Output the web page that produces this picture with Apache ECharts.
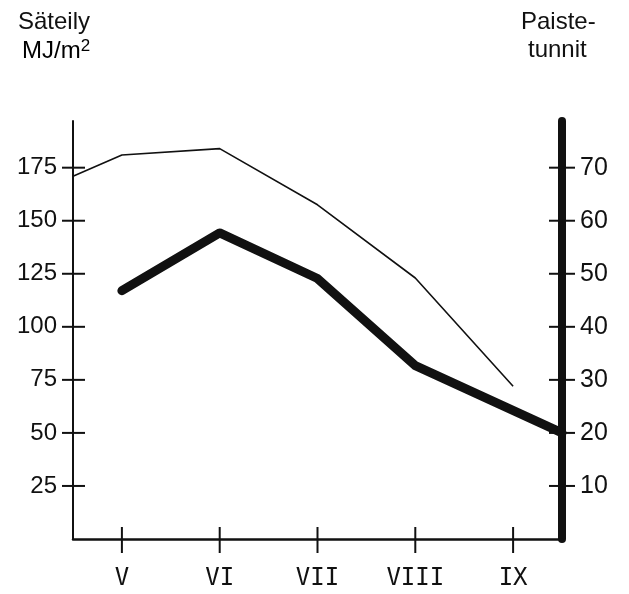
<!DOCTYPE html>
<html>
<head>
<meta charset="utf-8">
<script src="https://cdn.jsdelivr.net/npm/echarts@6/dist/echarts.min.js"></script>
<style>
  html, body { margin: 0; padding: 0; background: #fff; }
  #chart { width: 629px; height: 594px; }
</style>
</head>
<body>
<div id="chart"></div>
<script>
// kuukaudet ja arvot luettu kuvasta
var months = ['V', 'VI', 'VII', 'VIII', 'IX'];
var monthPos = [1, 2, 3, 4, 5];
var leftTicks = [25, 50, 75, 100, 125, 150, 175];
var rightTicks = [10, 20, 30, 40, 50, 60, 70];

// säteily MJ/m2 (ohut viiva, vasen akseli)
var radX = [0.5, 1, 2, 3, 4, 5];
var radY = [171, 181, 184, 157.5, 123, 72];

// paistetunnit (paksu viiva, oikea akseli)
var sunX = [1, 2, 3, 4, 5.5];
var sunY = [46.8, 57.7, 49.1, 32.7, 20];

function pairs(xs, ys) {
    var out = [];
    for (var i = 0; i < xs.length; i++) {
        out.push([xs[i], ys[i]]);
    }
    return out;
}

var ink = '#111';
var font = 'Liberation Sans';
var xMin = 0.5, xMax = 5.5;

// akselin yli menevät väkäset (custom series, koska tick ei mene akselin molemmin puolin)
function crossTicks(yIndex, vertical, before, after) {
    return {
        type: 'custom',
        xAxisIndex: 0,
        yAxisIndex: yIndex,
        clip: false,
        silent: true,
        renderItem: function (params, api) {
            var p = api.coord([api.value(0), api.value(1)]);
            var shape = vertical
                ? {x1: p[0], y1: p[1] - before, x2: p[0], y2: p[1] + after}
                : {x1: p[0] - before, y1: p[1], x2: p[0] + after, y2: p[1]};
            return {type: 'line', shape: shape, style: {stroke: ink, lineWidth: 2}};
        }
    };
}

var myChart = echarts.init(document.getElementById('chart'));

var leftTickSeries = crossTicks(0, false, 11, 12);
leftTickSeries.data = leftTicks.map(function (v) { return [xMin, v]; });
var rightTickSeries = crossTicks(1, false, 13, 13);
rightTickSeries.data = rightTicks.map(function (v) { return [xMax, v]; });
var bottomTickSeries = crossTicks(0, true, 12, 14);
bottomTickSeries.data = monthPos.map(function (m) { return [m, 0]; });

var option = {
    backgroundColor: '#fff',
    animation: false,
    grid: {
        left: 73,
        right: 67,
        top: 121,
        bottom: 55,
        containLabel: false
    },
    graphic: [
        {type: 'text', left: 18, top: 10, style: {text: 'Säteily', font: '24px ' + font, fill: ink}},
        {type: 'text', left: 22, top: 38, style: {
            text: '{a|MJ/m}{b|2}',
            rich: {
                a: {fontSize: 24, fontFamily: font, color: ink},
                b: {fontSize: 17, fontFamily: font, color: ink, verticalAlign: 'top', padding: [0, 0, 10, 0]}
            }
        }},
        {type: 'text', left: 521, top: 10, style: {text: 'Paiste-', font: '24px ' + font, fill: ink}},
        {type: 'text', left: 528, top: 38, style: {text: 'tunnit', font: '24px ' + font, fill: ink}}
    ],
    xAxis: [
        {
            type: 'value',
            show: false,
            min: xMin,
            max: xMax
        },
        {
            type: 'category',
            position: 'bottom',
            data: months,
            boundaryGap: true,
            axisLine: {lineStyle: {color: ink, width: 2.5}},
            axisTick: {show: false},
            axisLabel: {color: ink, fontSize: 24, fontFamily: 'DejaVu Sans Mono', margin: 28}
        }
    ],
    yAxis: [
        {
            type: 'value',
            position: 'left',
            min: 0,
            max: 197,
            splitLine: {show: false},
            axisLine: {show: true, lineStyle: {color: ink, width: 2}},
            axisTick: {show: false},
            axisLabel: {color: ink, fontSize: 24, fontFamily: font, margin: 16, customValues: leftTicks}
        },
        {
            type: 'value',
            position: 'right',
            min: 0,
            max: 78.8,
            splitLine: {show: false},
            axisLine: {show: true, lineStyle: {color: ink, width: 8, cap: 'round'}},
            axisTick: {show: false},
            axisLabel: {color: ink, fontSize: 25, fontFamily: font, margin: 18, customValues: rightTicks}
        }
    ],
    series: [
        {
            name: 'Säteily',
            type: 'line',
            xAxisIndex: 0,
            yAxisIndex: 0,
            data: pairs(radX, radY),
            symbol: 'none',
            lineStyle: {color: ink, width: 1.6, join: 'round'}
        },
        {
            name: 'Paistetunnit',
            type: 'line',
            xAxisIndex: 0,
            yAxisIndex: 1,
            data: pairs(sunX, sunY),
            symbol: 'none',
            lineStyle: {color: ink, width: 9, cap: 'round', join: 'round'}
        },
        leftTickSeries,
        rightTickSeries,
        bottomTickSeries
    ]
};

myChart.setOption(option);
</script>
</body>
</html>
